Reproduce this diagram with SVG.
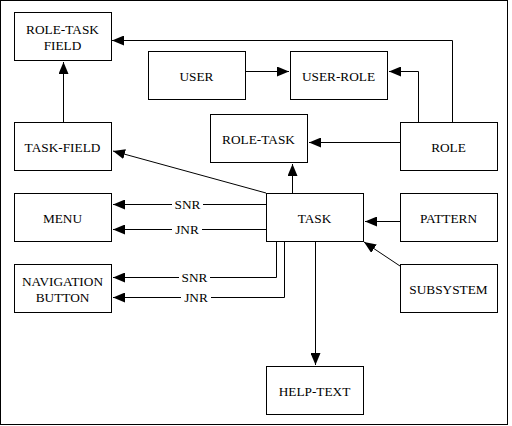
<svg xmlns="http://www.w3.org/2000/svg" width="512" height="426" viewBox="0 0 512 426">
<style>
.box{fill:#fff;stroke:#000;stroke-width:1}
.t{font-family:"Liberation Serif","Times New Roman",serif;font-size:13.3px;fill:#000;text-anchor:middle}
.c{fill:none;stroke:#000;stroke-width:1;marker-end:url(#ah)}
.lb{fill:#fff}
</style>
<defs>
<marker id="ah" markerUnits="userSpaceOnUse" markerWidth="12" markerHeight="10" refX="12" refY="5" orient="auto">
<path d="M0,0 L12,5 L0,10 z" fill="#000"/>
</marker>
</defs>
<rect x="0.5" y="0.5" width="507" height="424" fill="#fff" stroke="#000"/>
<g id="connectors">
<path class="c" d="M452.5,122 V40.5 H112"/>
<path class="c" d="M245.5,71.5 H289"/>
<path class="c" d="M418.5,122 V71.5 H389"/>
<path class="c" d="M400,142.5 H309"/>
<path class="c" d="M63.5,122 V62"/>
<path class="c" d="M266,193 L113,151"/>
<path class="c" d="M292.5,193 V164"/>
<path class="c" d="M266,204.5 H113"/>
<path class="c" d="M266,229.5 H113"/>
<path class="c" d="M276.5,241 V277.5 H113"/>
<path class="c" d="M284.5,241 V297.5 H113"/>
<path class="c" d="M400,221.5 H365"/>
<path class="c" d="M400,266 L364,242"/>
<path class="c" d="M315.5,241 V365"/>
<rect class="lb" x="172" y="198" width="31" height="13"/>
<text class="t" x="187.5" y="209">SNR</text>
<rect class="lb" x="172" y="223" width="30" height="13"/>
<text class="t" x="187" y="234">JNR</text>
<rect class="lb" x="179" y="271" width="31" height="13"/>
<text class="t" x="194.5" y="282">SNR</text>
<rect class="lb" x="181" y="291" width="30" height="13"/>
<text class="t" x="196" y="302">JNR</text>
</g>
<g id="role-task-field"><rect class="box" x="14.5" y="12.5" width="97" height="48"/><text class="t" x="62.5" y="34">ROLE-TASK</text><text class="t" x="62.5" y="50">FIELD</text></g>
<g id="user"><rect class="box" x="148.5" y="51.5" width="97" height="48"/><text class="t" x="196.5" y="81">USER</text></g>
<g id="user-role"><rect class="box" x="290.5" y="51.5" width="97" height="48"/><text class="t" x="338.5" y="81">USER-ROLE</text></g>
<g id="task-field"><rect class="box" x="14.5" y="122.5" width="97" height="48"/><text class="t" x="62.5" y="152">TASK-FIELD</text></g>
<g id="role-task"><rect class="box" x="210.5" y="114.5" width="97" height="48"/><text class="t" x="258.5" y="144">ROLE-TASK</text></g>
<g id="role"><rect class="box" x="400.5" y="122.5" width="97" height="48"/><text class="t" x="448.5" y="152">ROLE</text></g>
<g id="menu"><rect class="box" x="14.5" y="193.5" width="97" height="48"/><text class="t" x="62.5" y="223">MENU</text></g>
<g id="task"><rect class="box" x="266.5" y="193.5" width="97" height="48"/><text class="t" x="314.5" y="223">TASK</text></g>
<g id="pattern"><rect class="box" x="400.5" y="193.5" width="97" height="48"/><text class="t" x="448.5" y="223">PATTERN</text></g>
<g id="navigation-button"><rect class="box" x="14.5" y="264.5" width="97" height="48"/><text class="t" x="62.5" y="286">NAVIGATION</text><text class="t" x="62.5" y="302">BUTTON</text></g>
<g id="subsystem"><rect class="box" x="400.5" y="264.5" width="97" height="48"/><text class="t" x="448.5" y="294">SUBSYSTEM</text></g>
<g id="help-text"><rect class="box" x="266.5" y="366.5" width="97" height="48"/><text class="t" x="314.5" y="396">HELP-TEXT</text></g>
</svg>
